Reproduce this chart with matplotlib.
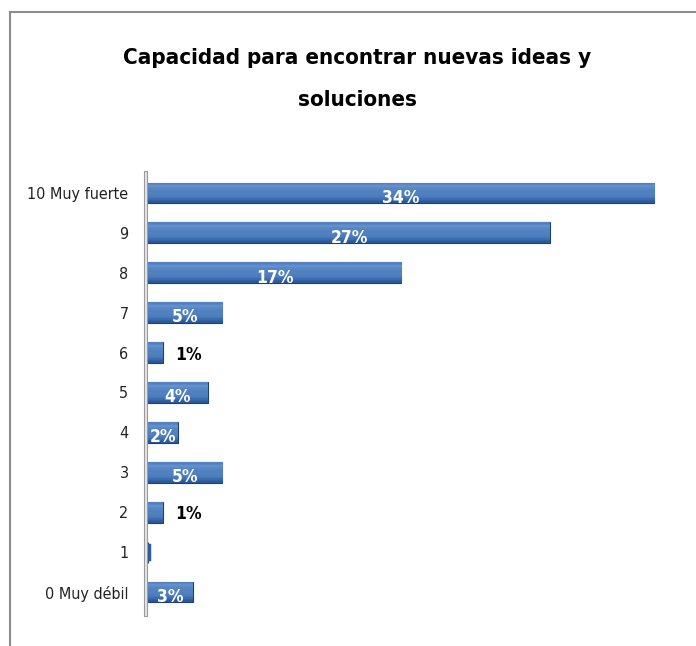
import numpy as np
import matplotlib
matplotlib.use('Agg')
import matplotlib.pyplot as plt
from matplotlib.patches import Rectangle
from matplotlib.lines import Line2D

# data
categorias = ['0 Muy débil', '1', '2', '3', '4', '5', '6', '7', '8', '9', '10 Muy fuerte']
valores = [3, 0, 1, 5, 2, 4, 1, 5, 17, 27, 34]
etiquetas = ['3%', '', '1%', '5%', '2%', '4%', '1%', '5%', '17%', '27%', '34%']

titulo = ['Capacidad para encontrar nuevas ideas y', 'soluciones']

fig = plt.figure(figsize=(6.96, 6.46), dpi=100)
ax = fig.add_axes([148/696, 30/646, 536/696, 447/646])

y = np.arange(len(categorias))
bars = ax.barh(y, valores, height=0.52, color='#2B5C9E', edgecolor='#1E3F70', linewidth=0.8)

# cylinder look: vertical gradient clipped to each bar
grad = np.array([0.4, 0.6, 0.75, 0.8, 0.8, 0.85, 0.95, 0.8]).reshape(-1, 1)
cmap = matplotlib.colors.LinearSegmentedColormap.from_list('c', ['#173766', '#2F62A8', '#6A96D0'])
for b in bars:
    w = b.get_width()
    if w <= 0:
        continue
    yy = b.get_y()
    h = b.get_height()
    im = ax.imshow(grad, cmap=cmap, vmin=0, vmax=1, aspect='auto',
                   extent=[0, w, yy, yy + h], origin='lower', zorder=2)
    im.set_clip_path(b)

# tiny sliver for the zero bar
ax.plot([0.05, 0.05], [1 - 0.18, 1 + 0.18], color='#2B5C9E', lw=2.5, zorder=3)

fnt = dict(family='DejaVu Sans', stretch='condensed')
for i, (v, t) in enumerate(zip(valores, etiquetas)):
    if not t:
        continue
    if v <= 1:
        ax.text(v + 0.8, i - 0.05, t, ha='left', va='center', fontsize=12.5,
                fontweight='bold', color='black', **fnt)
    else:
        ax.text(v / 2, i - 0.12, t, ha='center', va='center', fontsize=12.5,
                fontweight='bold', color='white', zorder=4, **fnt)

ax.set_xlim(0, 36)
ax.set_ylim(-0.6, 10.6)
ax.set_yticks(y)
ax.set_yticklabels(categorias, fontsize=11.5, color='#222222', **fnt)
ax.set_xticks([])
for s in ax.spines.values():
    s.set_visible(False)
ax.tick_params(axis='y', length=0, pad=14)

# axis wall
ax.add_patch(Rectangle((-0.25, -0.6), 0.2, 11.15, facecolor='#E6E6E6', edgecolor='#9A9A9A',
                       lw=0.8, clip_on=False, zorder=1))

fig.text(357/696, 1 - 58/646, titulo[0], ha='center', va='center', fontsize=16,
         fontweight='bold', **fnt)
fig.text(357/696, 1 - 100/646, titulo[1], ha='center', va='center', fontsize=16,
         fontweight='bold', **fnt)

# frame
fig.add_artist(Line2D([10/696, 1], [1 - 12/646, 1 - 12/646], color='#8C8C8C', lw=1.5))
fig.add_artist(Line2D([10/696, 10/696], [0, 1 - 12/646], color='#8C8C8C', lw=1.5))

fig.savefig('out.png', dpi=100)
